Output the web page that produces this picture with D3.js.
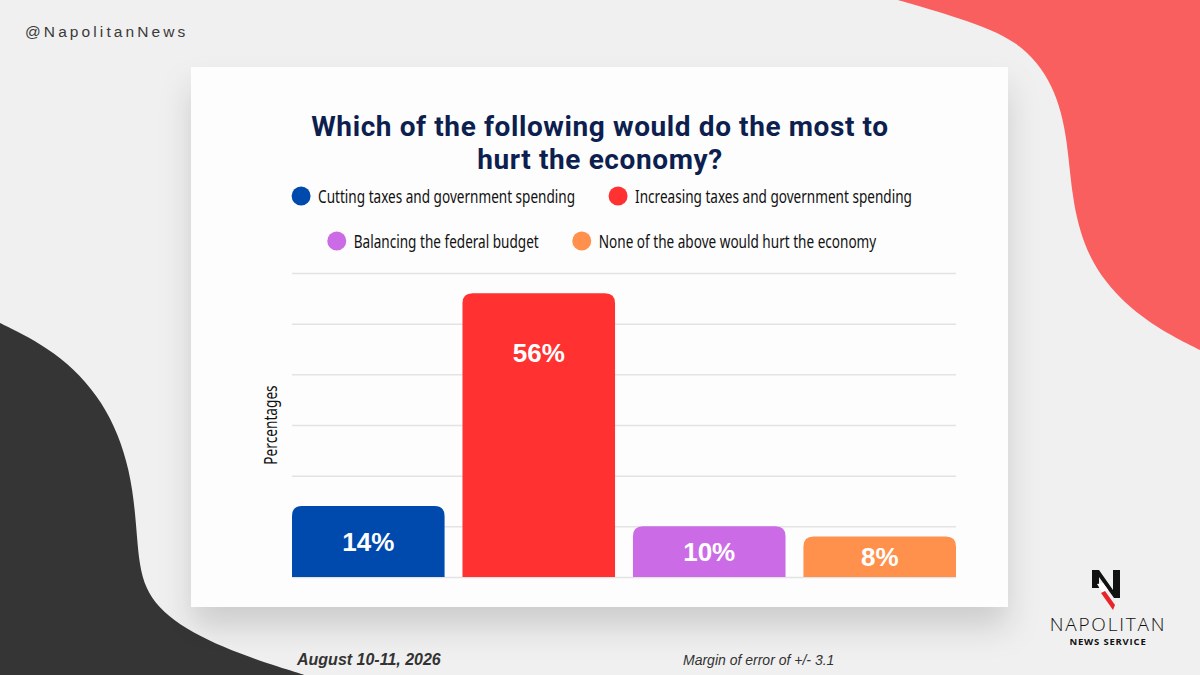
<!DOCTYPE html>
<html>
<head>
<meta charset="utf-8">
<script src="https://cdn.jsdelivr.net/npm/d3@7"></script>
<style>
  html, body { margin: 0; padding: 0; background: #f0f0f0; }
  svg { display: block; }
</style>
</head>
<body>
<div id="chart"></div>
<script>
// chart data
const categories = [
  "Cutting taxes and government spending",
  "Increasing taxes and government spending",
  "Balancing the federal budget",
  "None of the above would hurt the economy"
];
const values = [14, 56, 10, 8];
const barColors = ["#004aad", "#ff3131", "#cb6ce6", "#ff914d"];
const yTicks = [0, 10, 20, 30, 40, 50, 60];
const legendRows = [[0, 1], [2, 3]];

const titleLines = ["Which of the following would do the most to", "hurt the economy?"];
const handle = "@NapolitanNews";
const dateText = "August 10-11, 2026";
const marginText = "Margin of error of +/- 3.1";

const W = 1200, H = 675;
const narrow = "'Noto Sans', 'Open Sans', sans-serif";
const sans = "'Liberation Sans', Arial, sans-serif";
const squeeze = 0.715; // no condensed font installed, so squeeze horizontally

let svg = d3.select('#chart')
  .append("svg")
  .attr("width", W)
  .attr("height", H);

let defs = svg.append("defs");
let shadow = defs.append("filter")
  .attr("id", "cardShadow")
  .attr("x", "-10%").attr("y", "-10%")
  .attr("width", "120%").attr("height", "135%");
shadow.append("feDropShadow")
  .attr("dx", 0).attr("dy", 20)
  .attr("stdDeviation", 16)
  .attr("flood-color", "#000")
  .attr("flood-opacity", 0.15);

// background
svg.append("rect")
  .attr("width", W).attr("height", H)
  .attr("fill", "#f0f0f0");

// red blob top right
let blob = d3.line().curve(d3.curveBasis);
svg.append("path")
  .attr("fill", "#fa5f5f")
  .attr("d", blob([
    [898, 0], [898, 0], [960, 18], [1020, 40], [1055, 85], [1068, 140],
    [1072, 205], [1090, 265], [1130, 310], [1175, 338], [1200, 350], [1200, 350]
  ]) + "L1200,0Z");

// dark blob bottom left
svg.append("path")
  .attr("fill", "#353535")
  .attr("d", blob([
    [0, 323], [0, 323], [55, 350], [105, 400], [132, 470], [137, 540],
    [142, 590], [175, 625], [240, 655], [305, 675], [305, 675]
  ]) + "L0,675Z");

// handle
svg.append("text")
  .attr("x", 25).attr("y", 37)
  .style("font-family", sans)
  .style("font-size", "15.5px")
  .style("letter-spacing", "3.1px")
  .attr("fill", "#3a3a3a")
  .text(handle);

// card
let card = { x: 191, y: 67, w: 817, h: 540 };
svg.append("rect")
  .attr("x", card.x).attr("y", card.y)
  .attr("width", card.w).attr("height", card.h)
  .attr("fill", "#fdfdfd")
  .attr("filter", "url(#cardShadow)");

// title
let title = svg.append("text")
  .attr("text-anchor", "middle")
  .style("font-family", "Roboto, " + sans)
  .style("font-weight", "bold")
  .style("font-size", "28px")
  .style("letter-spacing", "0.6px")
  .attr("fill", "#0d1f4f");
title.selectAll("tspan")
  .data(titleLines)
  .enter()
  .append("tspan")
  .attr("x", 600)
  .attr("y", function (d, i) { return 136 + i * 33; })
  .text(String);

// legend
let legend = svg.append("g");
legendRows.forEach(function (row, r) {
  let rowG = legend.append("g");
  let cx = 0;
  row.forEach(function (idx) {
    let item = rowG.append("g").attr("transform", "translate(" + cx + ",0)");
    item.append("circle")
      .attr("cx", 9).attr("cy", 0).attr("r", 9.5)
      .attr("fill", barColors[idx]);
    let t = item.append("text")
      .attr("transform", "translate(26,7) scale(" + squeeze + ",1)")
      .style("font-family", narrow)
      .style("font-size", "19px")
      .attr("fill", "#111")
      .text(categories[idx]);
    let w = t.node().getComputedTextLength() * squeeze;
    cx += 26 + w + 34;
  });
  let rowW = cx - 34;
  rowG.attr("transform", "translate(" + (602 - rowW / 2) + "," + (196 + r * 45) + ")");
});

// plot
let plot = { left: 292, right: 956, top: 273, bottom: 577 };

let x = d3.scaleBand()
  .domain(categories)
  .range([plot.left, plot.right])
  .paddingInner(0.105)
  .paddingOuter(0);

let y = d3.scaleLinear()
  .domain([0, 60])
  .range([plot.bottom, plot.top]);

// gridlines
svg.append("g")
  .call(d3.axisLeft(y).tickValues(yTicks).tickSize(-(plot.right - plot.left)).tickFormat(""))
  .attr("transform", "translate(" + plot.left + ",0)")
  .call(function (g) { g.select(".domain").remove(); })
  .call(function (g) {
    g.selectAll(".tick line")
      .attr("stroke", "#e3e3e3")
      .attr("stroke-width", 1.5);
  });

// y axis label
svg.append("text")
  .attr("transform", "translate(277," + ((plot.top + plot.bottom) / 2) + ") rotate(-90) scale(0.76,1)")
  .attr("text-anchor", "middle")
  .style("font-family", narrow)
  .style("font-size", "18px")
  .attr("fill", "#111")
  .text("Percentages");

// bars with rounded tops
const rr = 10;
function topRounded(x0, y0, w, h) {
  let r = Math.min(rr, h / 2, w / 2);
  return "M" + x0 + "," + (y0 + h) +
    "V" + (y0 + r) +
    "Q" + x0 + "," + y0 + " " + (x0 + r) + "," + y0 +
    "H" + (x0 + w - r) +
    "Q" + (x0 + w) + "," + y0 + " " + (x0 + w) + "," + (y0 + r) +
    "V" + (y0 + h) + "Z";
}

let bars = svg.append("g");
bars.selectAll("path")
  .data(values)
  .enter()
  .append("path")
  .attr("fill", function (d, i) { return barColors[i]; })
  .attr("d", function (d, i) {
    return topRounded(x(categories[i]), y(d), x.bandwidth(), y(0) - y(d));
  });

bars.selectAll("text")
  .data(values)
  .enter()
  .append("text")
  .attr("text-anchor", "middle")
  .attr("x", function (d, i) { return x(categories[i]) + x.bandwidth() / 2; })
  .attr("y", function (d) {
    let mid = (y(d) + y(0)) / 2;
    return Math.min(mid, y(d) + 60) + 9;
  })
  .style("font-family", sans)
  .style("font-weight", "bold")
  .style("font-size", "26px")
  .attr("fill", "#ffffff")
  .text(function (d) { return d + "%"; });

// footer
svg.append("text")
  .attr("x", 297).attr("y", 665)
  .style("font-family", sans)
  .style("font-weight", "bold")
  .style("font-style", "italic")
  .style("font-size", "16px")
  .attr("fill", "#333")
  .text(dateText);

svg.append("text")
  .attr("x", 683).attr("y", 665)
  .style("font-family", sans)
  .style("font-style", "italic")
  .style("font-size", "14px")
  .attr("fill", "#333")
  .text(marginText);

// logo
let logo = svg.append("g");
logo.append("path")
  .attr("fill", "#111")
  .attr("d", "M1092,570 H1099 L1113,590 V570 H1120 V598 H1114 L1099,577 V588 H1092 Z");
logo.append("path")
  .attr("fill", "#fff")
  .attr("d", "M1097,584 L1103,583 L1108,590 L1102,592 Z");
logo.append("path")
  .attr("fill", "#e8242b")
  .attr("d", "M1101,593 L1105,591 L1115,605 L1113,610 Z");
logo.append("text")
  .attr("x", 1108).attr("y", 631)
  .attr("text-anchor", "middle")
  .style("font-family", "'Open Sans', " + sans)
  .style("font-weight", "300")
  .style("font-size", "19px")
  .style("letter-spacing", "1.8px")
  .attr("fill", "#111")
  .text("NAPOLITAN");
logo.append("text")
  .attr("x", 1108).attr("y", 645)
  .attr("text-anchor", "middle")
  .style("font-family", "'Open Sans', " + sans)
  .style("font-weight", "bold")
  .style("font-size", "9.5px")
  .style("letter-spacing", "0.8px")
  .attr("fill", "#111")
  .text("NEWS SERVICE");
</script>
</body>
</html>
